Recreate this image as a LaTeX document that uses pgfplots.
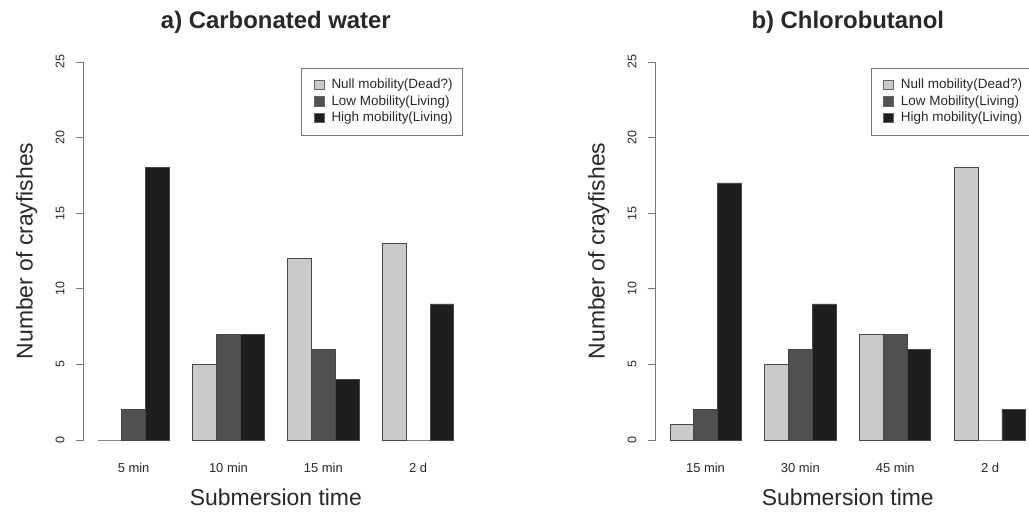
\documentclass[border=0pt]{standalone}
\usepackage{fontspec}
\setmainfont{Liberation Sans}
\usepackage{pgfplots}
\pgfplotsset{compat=1.18}

\definecolor{nullc}{RGB}{202,202,202}
\definecolor{lowc}{RGB}{80,80,80}
\definecolor{highc}{RGB}{30,30,30}
\definecolor{axc}{RGB}{120,120,120}
\definecolor{txt}{RGB}{40,40,40}

\pgfplotsset{
  panel/.style={
    anchor=south west, scale only axis,
    width=384.2bp, height=378bp,
    xmin=0.4, xmax=16.6, ymin=0, ymax=25,
    clip=false,
    axis lines*=left,
    x axis line style={draw=none},
    y axis line style={-, draw=axc, line width=0.8bp},
    xtick={2.5,6.5,10.5,14.5},
    xtick style={draw=none},
    ytick={0,5,10,15,20,25},
    ytick style={draw=axc, line width=0.8bp},
    tick align=outside,
    major tick length=8bp,
    /pgf/number format/assume math mode=true,
    yticklabel style={xshift=-11bp, rotate=90, anchor=south, inner sep=0pt,
                      font=\fontsize{12.5}{15}\selectfont, text=txt},
    xticklabel style={anchor=base, yshift=-24bp,
                      font=\fontsize{13}{15}\selectfont, text=txt},
    xlabel style={at={(0.5,-0.172)}, anchor=base,
                  font=\fontsize{23}{27}\selectfont, text=txt},
    ylabel style={at={(-0.133,0.5)}, anchor=base,
                  font=\fontsize{23}{27}\selectfont, text=txt},
    xlabel={Submersion time},
    ylabel={Number of crayfishes},
    ybar, bar width=1, bar shift=0pt,
    legend cell align=left,
    legend style={draw=axc, line width=0.8bp, fill=white,
                  inner xsep=8bp, inner ysep=8.5bp,
                  column sep=5bp, row sep=0pt,
                  font=\fontsize{13.5}{16.5}\selectfont,
                  nodes={inner xsep=2bp, inner ysep=1.75bp,
                         text height=10bp, text depth=3bp, text=txt}},
  },
  barsty/.style={fill=#1, draw=black!72, line width=0.8bp,
    legend image code/.code={
      \path (0bp,0bp);
      \draw[fill=#1, draw=black!60, line width=0.6bp] (4bp,-4.5bp) rectangle (14bp,5bp);}},
}
\tikzset{paneltitle/.style={anchor=base, inner sep=0pt, text=txt,
                            font=\fontsize{24}{28}\selectfont\bfseries}}

\begin{document}
\begin{tikzpicture}
\useasboundingbox (0,0) rectangle (1029bp,514bp);
\clip (0,0) rectangle (1029bp,514bp);
\fill[white] (0,0) rectangle (1029bp,514bp);

% a) Carbonated water
\begin{axis}[panel, at={(83.8bp,74bp)},
    xticklabels={5 min,10 min,15 min,2 d},
    legend style={at={(0.987,0.984)}, anchor=north east}]
  \addplot[barsty=nullc] coordinates {(1.5,0) (5.5,5) (9.5,12) (13.5,13)};
  \addlegendentry{Null mobility(Dead?)}
  \addplot[barsty=lowc] coordinates {(2.5,2) (6.5,7) (10.5,6) (14.5,0)};
  \addlegendentry{Low Mobility(Living)}
  \addplot[barsty=highc] coordinates {(3.5,18) (7.5,7) (11.5,4) (15.5,9)};
  \addlegendentry{High mobility(Living)}
  \node[paneltitle] at (rel axis cs:0.5,1.0886) {a) Carbonated water};
\end{axis}

% b) Chlorobutanol
\begin{axis}[panel, at={(655.7bp,74bp)},
    xticklabels={15 min,30 min,45 min,2 d},
    legend style={at={(0.560,0.984)}, anchor=north west}]
  \addplot[barsty=nullc] coordinates {(1.5,1) (5.5,5) (9.5,7) (13.5,18)};
  \addlegendentry{Null mobility(Dead?)}
  \addplot[barsty=lowc] coordinates {(2.5,2) (6.5,6) (10.5,7) (14.5,0)};
  \addlegendentry{Low Mobility(Living)}
  \addplot[barsty=highc] coordinates {(3.5,17) (7.5,9) (11.5,6) (15.5,2)};
  \addlegendentry{High mobility(Living)}
  \node[paneltitle] at (rel axis cs:0.5,1.0886) {b) Chlorobutanol};
\end{axis}
\end{tikzpicture}
\end{document}
